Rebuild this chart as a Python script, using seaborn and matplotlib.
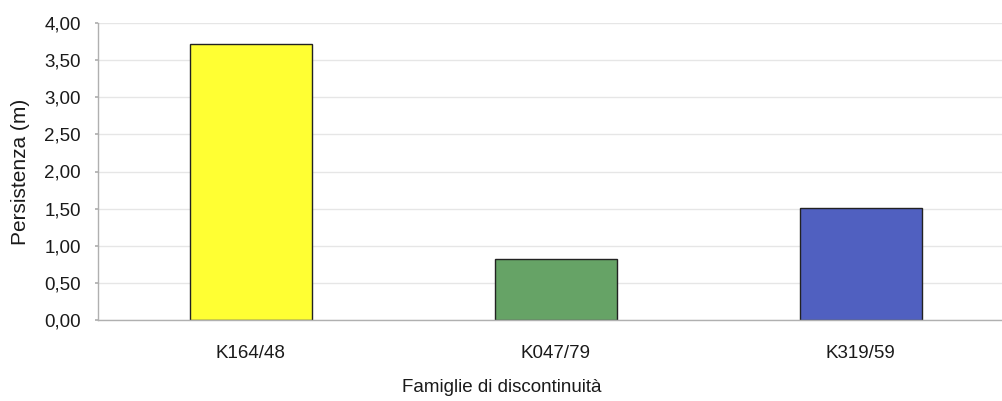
import matplotlib
matplotlib.use("Agg")
import matplotlib.pyplot as plt
import seaborn as sns
import pandas as pd
from matplotlib.ticker import FuncFormatter, MultipleLocator

families = ["K164/48", "K047/79", "K319/59"]
persistence = [3.72, 0.82, 1.51]
bar_colors = ["#ffff33", "#66a366", "#5060c0"]

sns.set_theme(style="white")
plt.rcParams["font.family"] = ["Liberation Sans", "DejaVu Sans"]

df = pd.DataFrame({"famiglia": families, "persistenza": persistence})

fig = plt.figure(figsize=(10.03, 4.01), dpi=100)
ax = fig.add_axes([98 / 1003, 1 - 320 / 401, 915 / 1003, 297 / 401])

sns.barplot(data=df, x="famiglia", y="persistenza", hue="famiglia",
            palette=bar_colors, width=0.4, edgecolor="#222222", linewidth=1.0,
            legend=False, ax=ax, saturation=1)

ax.set_xlim(-0.5, 2.5)
ax.set_ylim(0, 4.0)
ax.yaxis.set_major_locator(MultipleLocator(0.5))
ax.yaxis.set_major_formatter(FuncFormatter(lambda v, p: f"{v:.2f}".replace(".", ",")))
ax.grid(axis="y", color="#e6e6e6", linewidth=1.0)
ax.set_axisbelow(True)

for side in ["top", "right"]:
    ax.spines[side].set_visible(False)
for side in ["left", "bottom"]:
    ax.spines[side].set_color("#b0b0b0")
    ax.spines[side].set_linewidth(1.0)

ax.tick_params(axis="y", left=True, length=2, color="#b0b0b0", labelsize=13.5, pad=10.5, labelcolor="#1a1a1a")
ax.tick_params(axis="x", bottom=False, labelsize=13.5, pad=12, labelcolor="#1a1a1a")

ax.set_ylabel("Persistenza (m)", fontsize=15, color="#1a1a1a")
ax.set_xlabel("Famiglie di discontinuità", fontsize=13.5, color="#1a1a1a")
ax.yaxis.set_label_coords((30 - 98) / 915, 0.5)
ax.xaxis.set_label_coords((502 - 98) / 915, -(379 - 320) / 297)

fig.savefig("out.png", dpi=100)
